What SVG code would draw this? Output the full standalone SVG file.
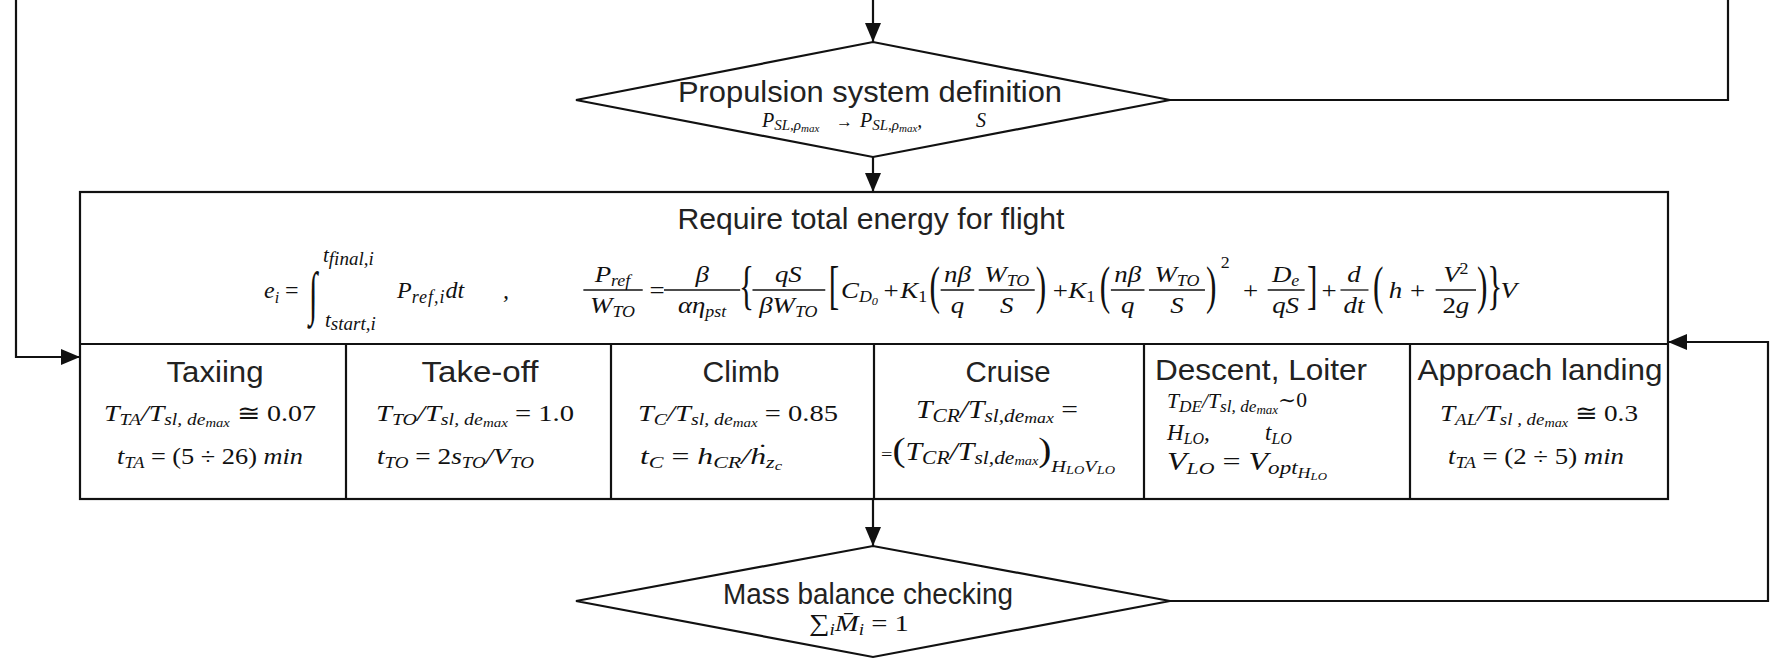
<svg xmlns="http://www.w3.org/2000/svg" width="1771" height="659" viewBox="0 0 1771 659">
<defs>
<style>
.ln{stroke:#111;stroke-width:2.2;fill:none}
.shape{fill:#fff;stroke:#111;stroke-width:2.2}
.grid{stroke:#111;stroke-width:2.2}
.lbl{font-family:"Liberation Sans",Arial,sans-serif;font-size:30px;fill:#222}
.m{font-family:"Liberation Serif","DejaVu Serif",serif;font-style:italic;fill:#111;font-size:24px}
.c{font-size:23px}
.r{font-style:normal}
.sb{font-size:16px}
.ss{font-size:11px}
.cs{font-size:16px}
.css{font-size:12px}
.fb{stroke:#111;stroke-width:1.3}
.big{font-family:"Liberation Serif",serif;font-style:normal;font-size:28px;fill:#111}
</style>
<marker id="ah" markerUnits="userSpaceOnUse" markerWidth="19" markerHeight="16" refX="19" refY="8" orient="auto">
<path d="M0,0 L19,8 L0,16 Z" fill="#111"/>
</marker>
</defs>
<rect width="1771" height="659" fill="#fff"/>

<g id="connectors">
<path class="ln" d="M873,0 V42" marker-end="url(#ah)"/>
<path class="ln" d="M873,157 V192" marker-end="url(#ah)"/>
<path class="ln" d="M1170,100 H1728 V0"/>
<path class="ln" d="M16,0 V357 H80" marker-end="url(#ah)"/>
<path class="ln" d="M1170,601 H1768 V342 H1668" marker-end="url(#ah)"/>
<path class="ln" d="M873,499 V546" marker-end="url(#ah)"/>
</g>

<g id="n-propulsion">
<polygon class="shape" points="576,100 873,42 1170,100 873,157"/>
<text class="lbl" x="870" y="102" text-anchor="middle" textLength="384" lengthAdjust="spacingAndGlyphs">Propulsion system definition</text>
<text class="m" x="762" y="127" style="font-size:20px">P<tspan style="font-size:15px" dy="3">SL,ρ</tspan><tspan style="font-size:11px" dy="2">max</tspan><tspan class="r" style="font-size:17px" x="836" dy="-5">→</tspan><tspan x="860">P</tspan><tspan style="font-size:15px" dy="3">SL,ρ</tspan><tspan style="font-size:11px" dy="2">max</tspan><tspan dy="-5">,</tspan><tspan x="976">S</tspan></text>
</g>

<g id="n-energy">
<rect class="shape" x="80" y="192" width="1588" height="307"/>
<line class="grid" x1="80" y1="344" x2="1668" y2="344"/>
<text class="lbl" x="871" y="229" text-anchor="middle" textLength="387" lengthAdjust="spacingAndGlyphs">Require total energy for flight</text>
<!-- left formula -->
<text class="m" x="264" y="298">e<tspan class="sb" dy="5">i</tspan><tspan class="r" dy="-5"> =</tspan></text>
<text class="big" transform="translate(309,313) scale(1.1,2.1)">∫</text>
<text class="m" x="323" y="262" style="font-size:21px">t<tspan style="font-size:19px" dy="3">final,i</tspan></text>
<text class="m" x="325" y="327" style="font-size:21px">t<tspan style="font-size:19px" dy="3">start,i</tspan></text>
<text class="m" x="397" y="298">P<tspan style="font-size:18px;letter-spacing:1px" dy="5">ref,i</tspan><tspan dy="-5">dt</tspan></text>
<text class="m" x="503" y="298">,</text>
<!-- right formula -->
<g transform="matrix(1.12,0,0,1,-69.6,0)">
<text class="m" x="609" y="282" text-anchor="middle">P<tspan class="sb" dy="4">ref</tspan></text>
<line class="fb" x1="583" y1="290" x2="636" y2="290"/>
<text class="m" x="609" y="313" text-anchor="middle">W<tspan class="sb" dy="4">TO</tspan></text>
<text class="m r" x="642" y="298">=</text>
<text class="m" x="689" y="282" text-anchor="middle">β</text>
<line class="fb" x1="655" y1="290" x2="723" y2="290"/>
<text class="m" x="689" y="313" text-anchor="middle">αη<tspan class="sb" dy="4">pst</tspan></text>
<text class="big" transform="translate(722,303) scale(1,1.85)">{</text>
<text class="m" x="766" y="282" text-anchor="middle">qS</text>
<line class="fb" x1="734" y1="290" x2="799" y2="290"/>
<text class="m" x="766" y="313" text-anchor="middle">βW<tspan class="sb" dy="4">TO</tspan></text>
<text class="big" transform="translate(802,303) scale(1,1.85)">[</text>
<text class="m" x="813" y="298">C<tspan class="sb" dy="4">D</tspan><tspan class="ss" dy="3">0</tspan></text>
<text class="m r" x="851" y="298">+</text>
<text class="m" x="866" y="298">K<tspan class="sb r" dy="4">1</tspan></text>
<text class="big" transform="translate(892,303) scale(1,1.85)">(</text>
<text class="m" x="917" y="282" text-anchor="middle">nβ</text>
<line class="fb" x1="902" y1="290" x2="932" y2="290"/>
<text class="m" x="917" y="313" text-anchor="middle">q</text>
<text class="m" x="961" y="282" text-anchor="middle">W<tspan class="sb" dy="4">TO</tspan></text>
<line class="fb" x1="936" y1="290" x2="986" y2="290"/>
<text class="m" x="961" y="313" text-anchor="middle">S</text>
<text class="big" transform="translate(987,303) scale(1,1.85)">)</text>
<text class="m r" x="1002" y="298">+</text>
<text class="m" x="1016" y="298">K<tspan class="sb r" dy="4">1</tspan></text>
<text class="big" transform="translate(1044,303) scale(1,1.85)">(</text>
<text class="m" x="1069" y="282" text-anchor="middle">nβ</text>
<line class="fb" x1="1054" y1="290" x2="1084" y2="290"/>
<text class="m" x="1069" y="313" text-anchor="middle">q</text>
<text class="m" x="1113" y="282" text-anchor="middle">W<tspan class="sb" dy="4">TO</tspan></text>
<line class="fb" x1="1088" y1="290" x2="1138" y2="290"/>
<text class="m" x="1113" y="313" text-anchor="middle">S</text>
<text class="big" transform="translate(1139,303) scale(1,1.85)">)</text>
<text class="m r" x="1152" y="268" style="font-size:16px">2</text>
<text class="m r" x="1172" y="298">+</text>
<text class="m" x="1210" y="282" text-anchor="middle">D<tspan class="sb" dy="4">e</tspan></text>
<line class="fb" x1="1194" y1="290" x2="1227" y2="290"/>
<text class="m" x="1210" y="313" text-anchor="middle">qS</text>
<text class="big" transform="translate(1229,303) scale(1,1.85)">]</text>
<text class="m r" x="1242" y="298">+</text>
<text class="m" x="1271" y="282" text-anchor="middle">d</text>
<line class="fb" x1="1259" y1="290" x2="1284" y2="290"/>
<text class="m" x="1271" y="313" text-anchor="middle">dt</text>
<text class="big" transform="translate(1288,303) scale(1,1.85)">(</text>
<text class="m" x="1302" y="298">h</text>
<text class="m r" x="1321" y="298">+</text>
<text class="m" x="1362" y="282" text-anchor="middle">V<tspan class="r sb" dy="-8">2</tspan></text>
<line class="fb" x1="1344" y1="290" x2="1380" y2="290"/>
<text class="m" x="1362" y="313" text-anchor="middle"><tspan class="r">2</tspan>g</text>
<text class="big" transform="translate(1381,303) scale(1,1.85)">)</text>
<text class="big" transform="translate(1390,303) scale(1,1.85)">}</text>
<text class="m" x="1402" y="298">V</text>
</g>
</g>

<g id="n-taxiing">
<line class="grid" x1="346" y1="344" x2="346" y2="499"/>
<text class="lbl" x="215" y="382" text-anchor="middle" textLength="97" lengthAdjust="spacingAndGlyphs">Taxiing</text>
<text class="m c" x="104" y="421" textLength="212" lengthAdjust="spacingAndGlyphs">T<tspan class="cs" dy="4">TA</tspan><tspan dy="-4">/T</tspan><tspan class="cs" dy="4">sl, de</tspan><tspan class="css" dy="2">max</tspan><tspan class="r" dy="-6"> ≅ 0.07</tspan></text>
<text class="m c" x="117" y="464" textLength="186" lengthAdjust="spacingAndGlyphs">t<tspan class="cs" dy="4">TA</tspan><tspan class="r" dy="-4"> = (5 ÷ 26) </tspan>min</text>
</g>

<g id="n-takeoff">
<line class="grid" x1="611" y1="344" x2="611" y2="499"/>
<text class="lbl" x="480" y="382" text-anchor="middle" textLength="117" lengthAdjust="spacingAndGlyphs">Take-off</text>
<text class="m c" x="376" y="421" textLength="198" lengthAdjust="spacingAndGlyphs">T<tspan class="cs" dy="4">TO</tspan><tspan dy="-4">/T</tspan><tspan class="cs" dy="4">sl, de</tspan><tspan class="css" dy="2">max</tspan><tspan class="r" dy="-6"> = 1.0</tspan></text>
<text class="m c" x="377" y="464" textLength="157" lengthAdjust="spacingAndGlyphs">t<tspan class="cs" dy="4">TO</tspan><tspan class="r" dy="-4"> = 2</tspan>s<tspan class="cs" dy="4">TO</tspan><tspan dy="-4">/V</tspan><tspan class="cs" dy="4">TO</tspan></text>
</g>

<g id="n-climb">
<line class="grid" x1="874" y1="344" x2="874" y2="499"/>
<text class="lbl" x="741" y="382" text-anchor="middle" textLength="77" lengthAdjust="spacingAndGlyphs">Climb</text>
<text class="m c" x="638" y="421" textLength="200" lengthAdjust="spacingAndGlyphs">T<tspan class="cs" dy="4">C</tspan><tspan dy="-4">/T</tspan><tspan class="cs" dy="4">sl, de</tspan><tspan class="css" dy="2">max</tspan><tspan class="r" dy="-6"> = 0.85</tspan></text>
<text class="m c" x="640" y="464" textLength="142" lengthAdjust="spacingAndGlyphs">t<tspan class="cs" dy="4">C</tspan><tspan class="r" dy="-4"> = </tspan>h<tspan class="cs" dy="4">CR</tspan><tspan dy="-4">/ḣ</tspan><tspan class="cs" dy="4">z</tspan><tspan class="css" dy="2">c</tspan></text>
</g>

<g id="n-cruise">
<line class="grid" x1="1144" y1="344" x2="1144" y2="499"/>
<text class="lbl" x="1008" y="382" text-anchor="middle" textLength="85" lengthAdjust="spacingAndGlyphs">Cruise</text>
<text class="m" x="916" y="418" style="font-size:25px" textLength="162" lengthAdjust="spacingAndGlyphs">T<tspan style="font-size:18px" dy="4">CR</tspan><tspan dy="-4">/T</tspan><tspan style="font-size:18px" dy="4">sl,de</tspan><tspan style="font-size:15px" dy="1">max</tspan><tspan class="r" dy="-5"> =</tspan></text>
<text class="m" x="881" y="460" style="font-size:25px" textLength="234" lengthAdjust="spacingAndGlyphs"><tspan class="r" style="font-size:17px">=</tspan><tspan class="big" style="font-size:33px" dy="1">(</tspan><tspan dy="-1">T</tspan><tspan style="font-size:18px" dy="4">CR</tspan><tspan dy="-4">/T</tspan><tspan style="font-size:18px" dy="4">sl,de</tspan><tspan style="font-size:12px" dy="1">max</tspan><tspan class="big" style="font-size:33px" dy="-4">)</tspan><tspan style="font-size:17px" dy="11">H</tspan><tspan style="font-size:12px" dy="2">LO</tspan><tspan style="font-size:17px" dy="-2">V</tspan><tspan style="font-size:12px" dy="2">LO</tspan></text>
</g>

<g id="n-descent">
<line class="grid" x1="1410" y1="344" x2="1410" y2="499"/>
<text class="lbl" x="1155" y="380" textLength="212" lengthAdjust="spacingAndGlyphs">Descent, Loiter</text>
<text class="m" x="1167" y="408" style="font-size:20px" textLength="140" lengthAdjust="spacingAndGlyphs">T<tspan class="cs" dy="4">DE</tspan><tspan dy="-4">/T</tspan><tspan class="cs" dy="4">sl, de</tspan><tspan class="css" dy="2">max</tspan><tspan class="r" dy="-7">∼0</tspan></text>
<text class="m c" x="1167" y="440">H<tspan class="cs" dy="4">LO</tspan><tspan dy="-4">,</tspan><tspan x="1265">t</tspan><tspan class="cs" dy="4">LO</tspan></text>
<text class="m" x="1167" y="470" style="font-size:25px" textLength="160" lengthAdjust="spacingAndGlyphs">V<tspan style="font-size:17px" dy="4">LO</tspan><tspan class="r" dy="-4"> = </tspan>V<tspan style="font-size:18px" dy="4">opt</tspan><tspan style="font-size:14px" dy="4">H</tspan><tspan style="font-size:10px" dy="2">LO</tspan></text>
</g>

<g id="n-approach">
<text class="lbl" x="1540" y="380" text-anchor="middle" textLength="245" lengthAdjust="spacingAndGlyphs">Approach landing</text>
<text class="m c" x="1440" y="421" textLength="198" lengthAdjust="spacingAndGlyphs">T<tspan class="cs" dy="4">AL</tspan><tspan dy="-4">/T</tspan><tspan class="cs" dy="4">sl , de</tspan><tspan class="css" dy="2">max</tspan><tspan class="r" dy="-6"> ≅ 0.3</tspan></text>
<text class="m c" x="1448" y="464" textLength="176" lengthAdjust="spacingAndGlyphs">t<tspan class="cs" dy="4">TA</tspan><tspan class="r" dy="-4"> = (2 ÷ 5) </tspan>min</text>
</g>

<g id="n-mass">
<polygon class="shape" points="576,601 873,546 1170,601 873,657"/>
<text class="lbl" x="868" y="604" text-anchor="middle" textLength="290" lengthAdjust="spacingAndGlyphs">Mass balance checking</text>
<text class="m" x="809" y="631" style="font-size:24px" textLength="100" lengthAdjust="spacingAndGlyphs"><tspan class="r">∑</tspan><tspan class="sb" dy="4">i</tspan><tspan dy="-4">M̄</tspan><tspan class="sb" dy="4">i</tspan><tspan class="r" dy="-4"> = 1</tspan></text>
</g>
</svg>
